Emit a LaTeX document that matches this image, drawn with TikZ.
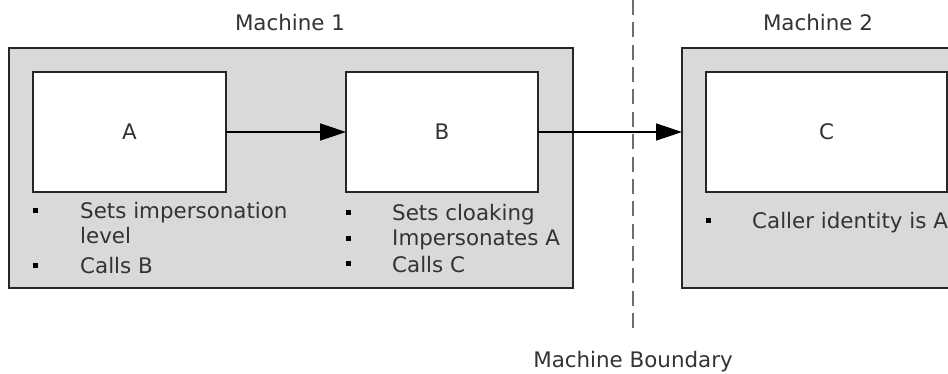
\documentclass[tikz,border=0pt]{standalone}
\usepackage{fontspec}
\setmainfont{DejaVu Sans}
\usetikzlibrary{arrows.meta}
\definecolor{machinegray}{HTML}{D9D9D9}
\definecolor{inkgray}{HTML}{333333}
\definecolor{dashgray}{HTML}{6E6E6E}
\begin{document}
\begin{tikzpicture}[x=1pt,y=-1pt,
  font=\fontsize{21.4}{25}\selectfont,
  machine/.style={rectangle, draw=black!85, line width=1.6pt, fill=machinegray, inner sep=0pt, outer sep=0pt},
  proc/.style={rectangle, draw=black!85, line width=1.6pt, fill=white, inner sep=0pt, outer sep=0pt, text=inkgray},
  lbl/.style={text=inkgray, inner sep=0pt, anchor=base west},
  title/.style={text=inkgray, inner sep=0pt, anchor=base},
  dot/.style={rectangle, fill=black, inner sep=0pt, minimum size=5pt},
  arr/.style={draw=black, line width=1.5pt, -{Triangle[length=26pt,width=17pt]}},
  boundary/.style={draw=dashgray, line width=2.2pt, dash pattern=on 15pt off 7.36pt}]
\useasboundingbox (0,0) rectangle (948,373);
\clip (0,0) rectangle (948,373);

% machines
\node[machine, minimum width=564pt, minimum height=240pt] (m1) at (291,168) {};
\node[machine, minimum width=300pt, minimum height=240pt] (m2) at (832,168) {};

% processes
\node[proc, minimum width=193pt, minimum height=120pt] (a) at (129.5,132) {A};
\node[proc, minimum width=192pt, minimum height=120pt] (b) at (442,132) {B};
\node[proc, minimum width=241pt, minimum height=120pt] (c) at (826.5,132) {C};

% titles
\node[title] (t1) at (290,30) {Machine 1};
\node[title] (t2) at (818,30) {Machine 2};
\node[title] (tb) at (633,367) {Machine Boundary};

% boundary
\coordinate (btop) at (633,0);
\coordinate (bbot) at (633,328);
\draw[boundary] (btop) -- (bbot);

% connectors
\draw[arr] (a.east) -- (b.west);
\draw[arr] (b.east) -- (b.east -| m2.west);

% bullets of A
\node[dot] (da1) at (35,210) {};
\node[lbl] (la1) at (80,218) {Sets impersonation};
\node[lbl] (la2) at (80,243) {level};
\node[dot] (da2) at (35,265) {};
\node[lbl] (la3) at (80,273) {Calls B};

% bullets of B
\node[dot] (db1) at (348,212) {};
\node[lbl] (lb1) at (392,220) {Sets cloaking};
\node[dot] (db2) at (348,238) {};
\node[lbl] (lb2) at (392,245) {Impersonates A};
\node[dot] (db3) at (348,263) {};
\node[lbl] (lb3) at (392,272) {Calls C};

% bullet of C
\node[dot] (dc1) at (708,220) {};
\node[lbl] (lc1) at (752,228) {Caller identity is A};
\end{tikzpicture}
\end{document}
